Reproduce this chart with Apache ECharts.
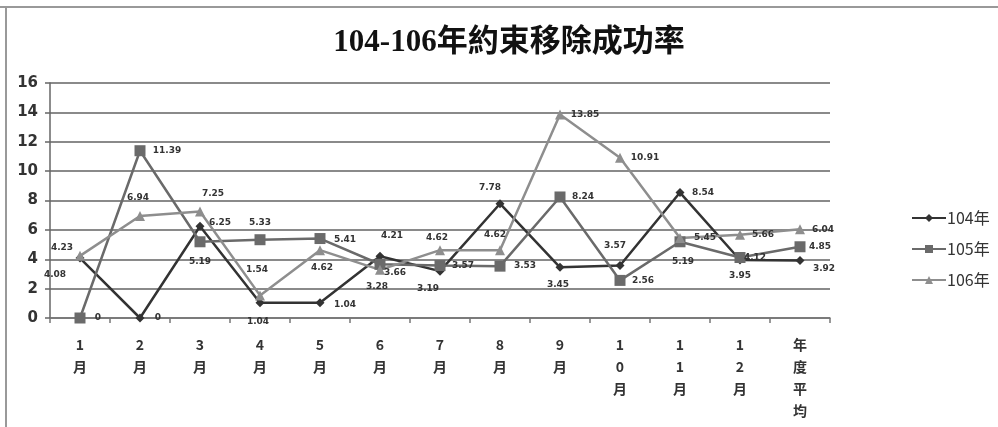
<!DOCTYPE html>
<html>
<head>
<meta charset="utf-8">
<script src="https://cdn.jsdelivr.net/npm/echarts@6/dist/echarts.min.js"></script>
<style>
  html, body { margin: 0; padding: 0; background: #fff; }
  #chart { width: 998px; height: 427px; }
</style>
</head>
<body>
<div id="chart"></div>
<script>
// Categories (months plus the yearly average)
const categories = ['1月', '2月', '3月', '4月', '5月', '6月', '7月', '8月', '9月', '10月', '11月', '12月', '年度平均'];

// Success rate per year
const rate104 = [4.08, 0, 6.25, 1.04, 1.04, 4.21, 3.19, 7.78, 3.45, 3.57, 8.54, 3.95, 3.92];
const rate105 = [0, 11.39, 5.19, 5.33, 5.41, 3.66, 3.57, 3.53, 8.24, 2.56, 5.19, 4.12, 4.85];
const rate106 = [4.23, 6.94, 7.25, 1.54, 4.62, 3.28, 4.62, 4.62, 13.85, 10.91, 5.45, 5.66, 6.04];

const seriesNames = ['104年', '105年', '106年'];
const yTicks = { min: 0, max: 16, step: 2 };

// Per-point label offsets (pixels from the marker centre)
const off104 = [[-25, 17], [18, 0], [20, -4], [-2, 19], [25, 2], [12, -21], [-12, 18], [-10, -16], [-2, 17], [-5, -20], [23, 0], [0, 16], [24, 8]];
const off105 = [[18, 0], [27, 0], [0, 20], [0, -17], [25, 1], [15, 8], [23, 0], [25, 0], [23, 0], [23, 0], [3, 20], [15, 0], [20, 0]];
const off106 = [[-18, -8], [-2, -18], [13, -18], [-3, -26], [2, 18], [-3, 17], [-3, -12], [-5, -15], [25, 0], [25, 0], [25, 0], [23, 0], [23, 0]];

function withLabels(values, offsets) {
  return values.map((v, i) => ({
    value: v,
    label: { show: true, position: 'inside', offset: offsets[i] }
  }));
}

const labelStyle = {
  fontFamily: 'DejaVu Sans, sans-serif',
  fontSize: 9,
  fontWeight: 'bold',
  color: '#333',
  formatter: p => String(p.value)
};

function makeSeries(name, values, offsets, color, symbol, size) {
  return {
    name: name,
    type: 'line',
    data: withLabels(values, offsets),
    symbol: symbol,
    symbolSize: size,
    lineStyle: { color: color, width: 2.5 },
    itemStyle: { color: color },
    label: labelStyle,
    emphasis: { disabled: true },
    animation: false,
    z: 3
  };
}

const chart = echarts.init(document.getElementById('chart'), null, { renderer: 'canvas' });

chart.setOption({
  backgroundColor: '#fff',
  animation: false,
  title: {
    text: '104-106年約束移除成功率',
    left: 504,
    top: 22,
    textAlign: 'center',
    textStyle: {
      fontFamily: "'Liberation Serif', 'Noto Sans CJK TC', serif",
      fontSize: 31,
      fontWeight: 'bold',
      color: '#111'
    }
  },
  legend: {
    orient: 'vertical',
    left: 906,
    top: 205,
    itemWidth: 34,
    itemHeight: 10,
    itemGap: 15,
    data: seriesNames,
    textStyle: {
      fontFamily: "'Noto Sans CJK TC', sans-serif",
      fontSize: 16,
      color: '#333',
      padding: [0, 0, 0, -4]
    }
  },
  grid: {
    left: 50,
    top: 83,
    width: 780,
    height: 235,
    containLabel: false
  },
  xAxis: {
    type: 'category',
    data: categories,
    boundaryGap: true,
    axisLine: { show: true, lineStyle: { color: '#777', width: 1.5 } },
    axisTick: { show: true, interval: 0, length: 5, lineStyle: { color: '#777', width: 1.5 } },
    axisLabel: {
      interval: 0,
      margin: 16,
      lineHeight: 22,
      fontFamily: "'Noto Sans CJK TC', sans-serif",
      fontSize: 14,
      fontWeight: 'bold',
      color: '#333',
      formatter: v => v.split('').join('\n')
    },
    splitLine: { show: false }
  },
  yAxis: {
    type: 'value',
    min: yTicks.min,
    max: yTicks.max,
    interval: yTicks.step,
    axisLine: { show: true, lineStyle: { color: '#666', width: 1.5 } },
    axisTick: { show: true, length: 5, lineStyle: { color: '#666', width: 1.5 } },
    axisLabel: {
      margin: 12,
      fontFamily: "'DejaVu Sans', sans-serif",
      fontSize: 15,
      fontWeight: 'bold',
      color: '#333'
    },
    splitLine: { show: true, lineStyle: { color: '#8a8a8a', width: 2 } }
  },
  graphic: [
    { type: 'line', shape: { x1: 0, y1: 7, x2: 998, y2: 7 }, style: { stroke: '#999', lineWidth: 2 }, silent: true },
    { type: 'line', shape: { x1: 6, y1: 7, x2: 6, y2: 427 }, style: { stroke: '#999', lineWidth: 2 }, silent: true }
  ],
  series: [
    makeSeries(seriesNames[0], rate104, off104, '#333333', 'diamond', 9),
    makeSeries(seriesNames[1], rate105, off105, '#6a6a6a', 'rect', 11),
    makeSeries(seriesNames[2], rate106, off106, '#8e8e8e', 'triangle', 10)
  ]
});
</script>
</body>
</html>
